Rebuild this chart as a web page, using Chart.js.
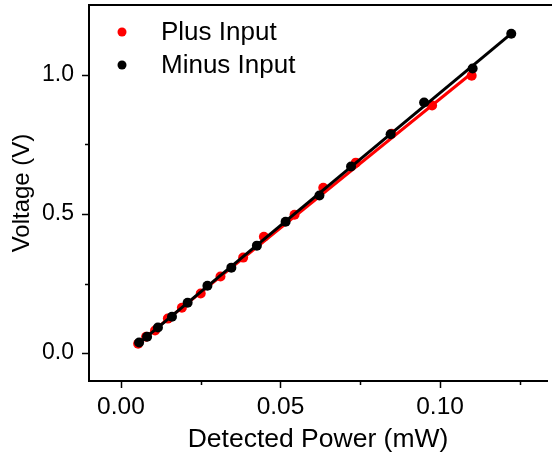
<!DOCTYPE html>
<html>
<head>
<meta charset="utf-8">
<script src="https://cdn.jsdelivr.net/npm/chart.js@4"></script>
<style>
  html, body { margin: 0; padding: 0; background: #fff; }
  #wrap { width: 552px; height: 456px; }
</style>
</head>
<body>
<div id="wrap"><canvas id="myChart" width="552" height="456"></canvas></div>
<script>
// detected power (mW) and voltage (V)
const plusX = [0.0054, 0.0079, 0.0107, 0.0147, 0.0191, 0.0250, 0.0312, 0.0383, 0.0448, 0.0544, 0.0634, 0.0736, 0.0848, 0.0975, 0.1099];
const plusY = [0.034, 0.059, 0.081, 0.124, 0.163, 0.214, 0.275, 0.343, 0.418, 0.497, 0.594, 0.684, 0.788, 0.889, 0.996];
const minusX = [0.0057, 0.0082, 0.0116, 0.0160, 0.0209, 0.0271, 0.0346, 0.0426, 0.0516, 0.0622, 0.0721, 0.0845, 0.0950, 0.1102, 0.1223];
const minusY = [0.038, 0.059, 0.092, 0.131, 0.181, 0.242, 0.307, 0.386, 0.472, 0.566, 0.670, 0.786, 0.900, 1.022, 1.147];

// linear fit lines (end points)
const plusFitX = [0.0054, 0.1099];
const plusFitY = [0.036, 1.005];
const minusFitX = [0.0057, 0.1223];
const minusFitY = [0.036, 1.147];

const xTicks = [0, 0.05, 0.10];
const xTickLabels = ['0.00', '0.05', '0.10'];
const xMinor = [0.025, 0.075, 0.125];
const yTicks = [0, 0.5, 1.0];
const yTickLabels = ['0.0', '0.5', '1.0'];
const yMinor = [0.25, 0.75];

const seriesNames = ['Plus Input', 'Minus Input'];

const FONT = "'Liberation Sans', Arial, sans-serif";

const toPts = (xs, ys) => xs.map((x, i) => ({ x: x, y: ys[i] }));

// no extra label padding, the plot box is fixed
const noPad = (s) => { s.paddingTop = 0; s.paddingBottom = 0; s.paddingLeft = 0; s.paddingRight = 0; };

// frame top line + outward ticks + legend
const framePlugin = {
  id: 'frame',
  afterDraw(chart) {
    const ctx = chart.ctx;
    const a = chart.chartArea;
    const xs = chart.scales.x, ys = chart.scales.y;
    ctx.save();
    ctx.strokeStyle = '#000';
    ctx.lineWidth = 2;
    ctx.beginPath();
    ctx.moveTo(a.left - 1, a.top);
    ctx.lineTo(chart.width, a.top);
    ctx.stroke();

    ctx.lineWidth = 1.5;
    ctx.beginPath();
    xTicks.forEach(v => { const p = Math.round(xs.getPixelForValue(v)) + 0.5; ctx.moveTo(p, a.bottom); ctx.lineTo(p, a.bottom + 7); });
    xMinor.forEach(v => { const p = Math.round(xs.getPixelForValue(v)) + 0.5; ctx.moveTo(p, a.bottom); ctx.lineTo(p, a.bottom + 4); });
    yTicks.forEach(v => { const p = Math.round(ys.getPixelForValue(v)) + 0.5; ctx.moveTo(a.left, p); ctx.lineTo(a.left - 7, p); });
    yMinor.forEach(v => { const p = Math.round(ys.getPixelForValue(v)) + 0.5; ctx.moveTo(a.left, p); ctx.lineTo(a.left - 4, p); });
    ctx.stroke();

    // legend
    const colors = ['#ff0000', '#000000'];
    ctx.font = '26px ' + FONT;
    ctx.textBaseline = 'middle';
    ctx.textAlign = 'left';
    seriesNames.forEach((name, i) => {
      const cy = 32 + i * 33;
      ctx.fillStyle = colors[i];
      ctx.beginPath();
      ctx.arc(122, cy, 4.5, 0, Math.PI * 2);
      ctx.fill();
      ctx.fillStyle = '#000';
      ctx.fillText(name, 161, cy + 1);
    });
    ctx.restore();
  }
};

const ctx = document.getElementById('myChart').getContext('2d');
new Chart(ctx, {
  type: 'scatter',
  data: {
    datasets: [
      {
        label: seriesNames[1] + ' fit',
        data: toPts(minusFitX, minusFitY),
        showLine: true,
        borderColor: '#000',
        borderWidth: 3,
        pointRadius: 0,
        order: 1
      },
      {
        label: seriesNames[1],
        data: toPts(minusX, minusY),
        backgroundColor: '#000',
        borderColor: '#000',
        borderWidth: 0,
        pointRadius: 5,
        order: 2
      },
      {
        label: seriesNames[0] + ' fit',
        data: toPts(plusFitX, plusFitY),
        showLine: true,
        borderColor: '#ff0000',
        borderWidth: 3,
        pointRadius: 0,
        order: 3
      },
      {
        label: seriesNames[0],
        data: toPts(plusX, plusY),
        backgroundColor: '#ff0000',
        borderColor: '#ff0000',
        borderWidth: 0,
        pointRadius: 5,
        order: 4
      }
    ]
  },
  options: {
    responsive: false,
    animation: false,
    events: [],
    layout: { padding: { top: 5, right: -4, left: 0, bottom: 0 } },
    plugins: {
      legend: { display: false },
      tooltip: { enabled: false }
    },
    scales: {
      x: {
        type: 'linear',
        min: -0.01,
        max: 0.1335,
        afterBuildTicks: (s) => { s.ticks = xTicks.map(v => ({ value: v })); },
        afterFit: (s) => { s.height = 75; noPad(s); },
        ticks: {
          color: '#000',
          padding: 12,
          maxRotation: 0,
          font: { family: FONT, size: 24.5 },
          callback: (v) => xTickLabels[xTicks.indexOf(v)]
        },
        grid: { display: false, drawTicks: false },
        border: { display: true, color: '#000', width: 2 },
        title: {
          display: true,
          text: 'Detected Power (mW)',
          color: '#000',
          font: { family: FONT, size: 26.5 },
          padding: { top: 2, bottom: 0 }
        }
      },
      y: {
        type: 'linear',
        min: -0.1,
        max: 1.25,
        afterBuildTicks: (s) => { s.ticks = yTicks.map(v => ({ value: v })); },
        afterFit: (s) => { s.width = 89; noPad(s); },
        ticks: {
          color: '#000',
          padding: 15,
          font: { family: FONT, size: 23 },
          callback: (v) => yTickLabels[yTicks.indexOf(v)]
        },
        grid: { display: false, drawTicks: false },
        border: { display: true, color: '#000', width: 2 },
        title: {
          display: true,
          text: 'Voltage (V)',
          color: '#000',
          font: { family: FONT, size: 24 },
          padding: { top: 8, bottom: 4 }
        }
      }
    }
  },
  plugins: [framePlugin]
});
</script>
</body>
</html>
